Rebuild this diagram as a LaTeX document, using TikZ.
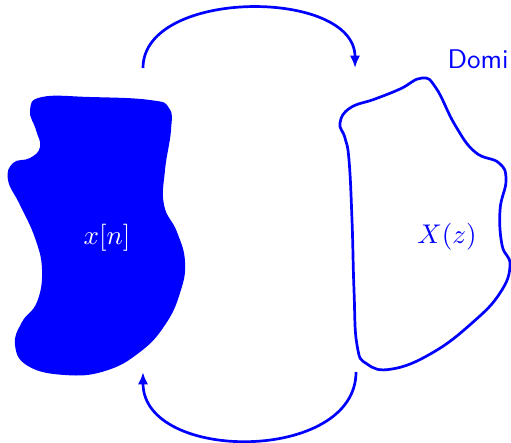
\documentclass[tikz,border=0pt]{standalone}
\usetikzlibrary{arrows.meta}
\begin{document}
\begin{tikzpicture}[x=0.37pt, y=-0.37pt, region/.style={line width=1pt, blue}, map/.style={line width=1pt, blue, -{Latex[length=4.6pt, width=3.8pt]}}, label/.style={inner sep=0pt}]

	\useasboundingbox (0,0) rectangle (511,442);

	% time domain
	\fill[blue] plot[smooth cycle, tension=0.75] coordinates {(30,110) (42,97) (90,97) (150,100) (169,108) (171,130) (165,170) (164,205) (177,232) (185,262) (180,293) (165,325) (140,352) (105,371) (65,375) (28,366) (15,345) (22,322) (37,302) (42,270) (35,238) (20,205) (8,180) (13,163) (30,158) (40,147) (36,130)};

	% z domain
	\draw[region] plot[smooth cycle, tension=0.75] coordinates {(340,123) (350,108) (375,99) (400,89) (422,78) (436,88) (455,125) (475,152) (499,163) (506,180) (500,210) (502,245) (510,265) (500,293) (472,323) (432,353) (392,369) (367,364) (357,345) (354,290) (352,220) (349,160) (345,138)};

	\node[label, text=white] (xn) at (107,238) {$x[n]$};

	\node[label, text=blue] (Xz) at (447,237) {$X(z)$};

	\node[label, text=blue, anchor=base west] (dom) at (447,68) {\sffamily Domi};

	\coordinate (a1) at (143,68);

	\coordinate (a2) at (355,68);

	\coordinate (b1) at (356,372);

	\coordinate (b2) at (143,372);

	\draw[map] (a1) .. controls (143,-12) and (355,-12) .. (a2);

	\draw[map] (b1) .. controls (356,463) and (143,463) .. (b2);

\end{tikzpicture}
\end{document}
